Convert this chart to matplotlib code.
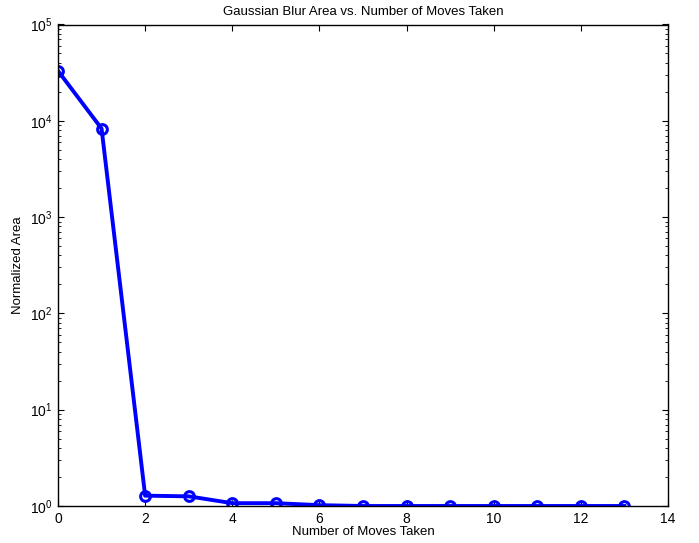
import matplotlib
matplotlib.use("Agg")
import matplotlib.pyplot as plt

# values
moves = [0, 1, 2, 3, 4, 5, 6, 7, 8, 9, 10, 11, 12, 13]
area = [33000, 8300, 1.28, 1.26, 1.07, 1.07, 1.02, 1.0, 1.0, 1.0, 1.0, 1.0, 1.0, 1.0]

plt.rcParams['font.family'] = ['Liberation Sans', 'DejaVu Sans']
plt.rcParams['font.size'] = 10

fig = plt.figure(figsize=(6.99, 5.43), dpi=100)
ax = fig.add_axes([58 / 699, 1 - 506 / 543, 610 / 699, 481.5 / 543])

ax.semilogy(moves, area, color=(0, 0, 1), linewidth=2.8, marker='o', markersize=7,
            markerfacecolor='none', markeredgewidth=2.2, markeredgecolor=(0, 0, 1))

ax.set_xlim(0, 14)
ax.set_ylim(1, 1e5)
ax.set_xticks(range(0, 15, 2))
ax.tick_params(which='both', direction='in', top=True, right=True, labelsize=10)
ax.tick_params(which='major', length=4, pad=4)
ax.tick_params(which='minor', length=2.5)
for s in ax.spines.values():
    s.set_linewidth(1.0)

ax.set_title("Gaussian Blur Area vs. Number of Moves Taken", fontsize=9.5, pad=7)
ax.set_xlabel("Number of Moves Taken", fontsize=9.5, labelpad=0)
ax.set_ylabel("Normalized Area", fontsize=9.5, labelpad=4)

fig.savefig("out.png", dpi=100)
